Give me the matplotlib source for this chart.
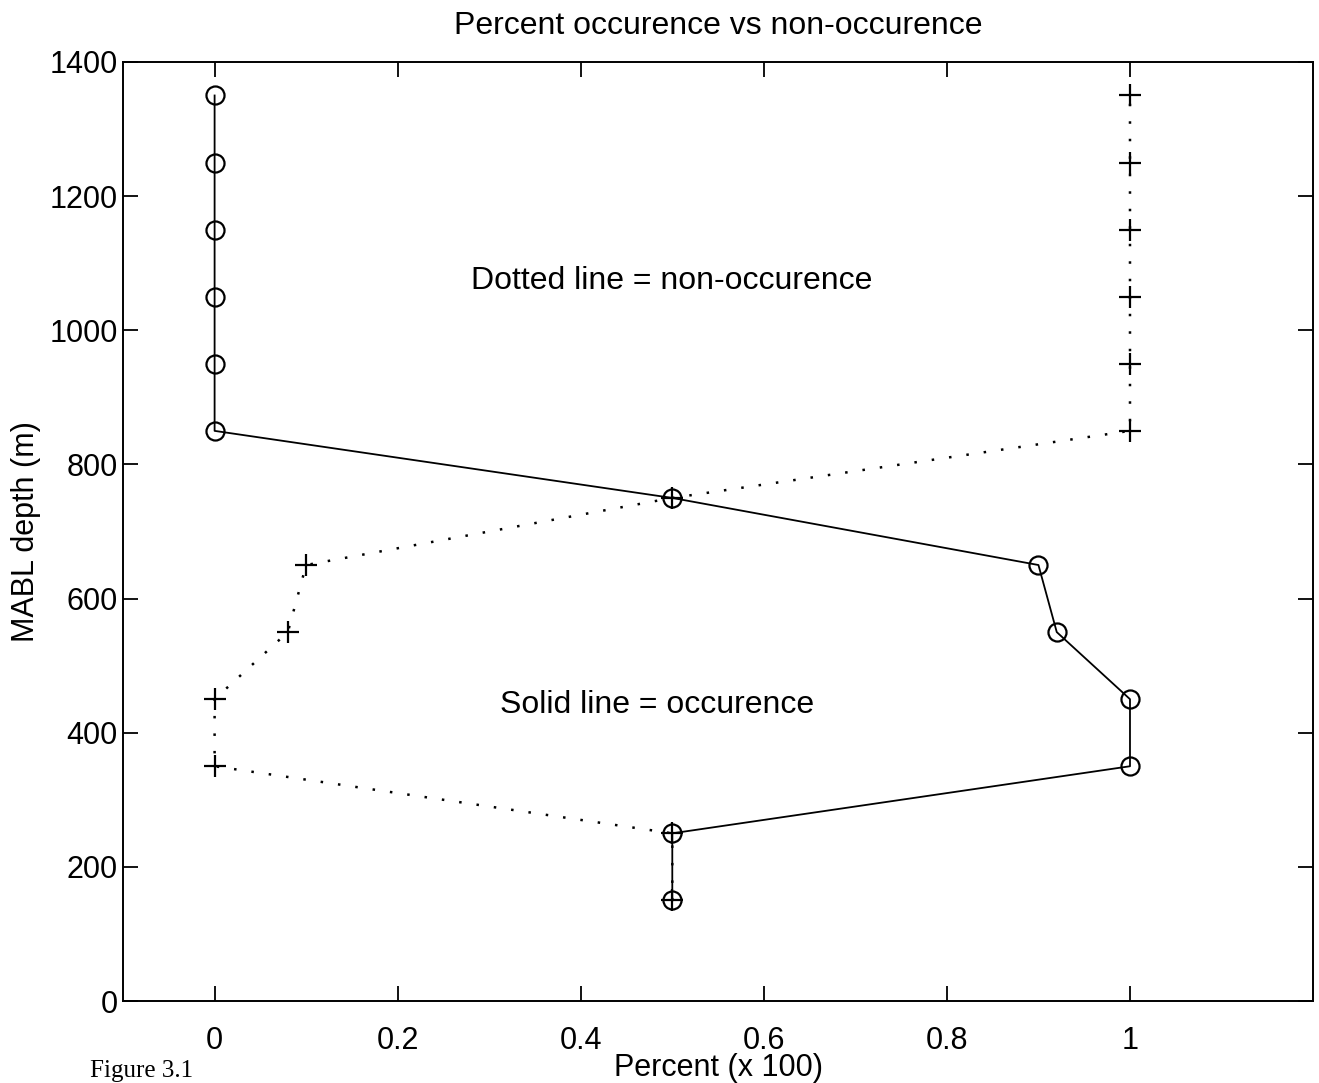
import matplotlib
matplotlib.use("Agg")
import matplotlib.pyplot as plt

plt.rcParams["font.family"] = ["Liberation Sans", "DejaVu Sans"]

# MABL depth bins (m) and fractions
depth = [150, 250, 350, 450, 550, 650, 750, 850, 950, 1050, 1150, 1250, 1350]
occur = [0.5, 0.5, 1.0, 1.0, 0.92, 0.90, 0.5, 0.0, 0.0, 0.0, 0.0, 0.0, 0.0]
non_occur = [0.5, 0.5, 0.0, 0.0, 0.08, 0.10, 0.5, 1.0, 1.0, 1.0, 1.0, 1.0, 1.0]

x_ticks = [0, 0.2, 0.4, 0.6, 0.8, 1.0]
x_labels = ["0", "0.2", "0.4", "0.6", "0.8", "1"]
y_ticks = [0, 200, 400, 600, 800, 1000, 1200, 1400]

fig = plt.figure(figsize=(13.19, 10.83), dpi=100)
ax = fig.add_axes([0.0933, 0.0757, 0.9022, 0.8671])

ax.plot(occur, depth, "k-", lw=1.3, marker="o", ms=13, mfc="none", mew=1.6)
ax.plot(non_occur, depth, color="k", ls=(0, (1, 6)), lw=1.8,
        marker="+", ms=16, mew=1.6)

ax.set_xlim(-0.1, 1.2)
ax.set_ylim(0, 1400)
ax.set_xticks(x_ticks)
ax.set_xticklabels(x_labels)
ax.set_yticks(y_ticks)
ax.tick_params(direction="in", length=11, width=1.3, labelsize=22,
               top=True, right=True)
ax.tick_params(axis="x", pad=18)
ax.tick_params(axis="y", pad=4)
for s in ax.spines.values():
    s.set_linewidth(1.4)

ax.set_xlabel("Percent (x 100)", fontsize=22, labelpad=-2)
ax.set_ylabel("MABL depth (m)", fontsize=22, labelpad=6)
ax.set_title("Percent occurence vs non-occurence", fontsize=23, pad=20)

ax.text(0.28, 1073, "Dotted line = non-occurence", fontsize=23, va="center")
ax.text(0.312, 441, "Solid line = occurence", fontsize=23, va="center")

fig.text(0.068, 0.001, "Figure 3.1", fontsize=18, family="Liberation Serif",
         va="bottom")

fig.savefig("out.png", dpi=100)
